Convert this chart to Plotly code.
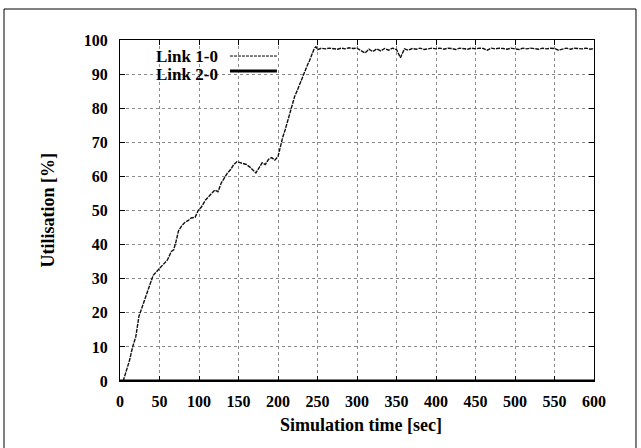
import plotly.graph_objects as go

# Link 1-0 utilisation over time
time_rise = [4, 8, 12, 16, 20, 24, 27, 30, 34, 38, 42, 46, 50, 55, 60, 65, 68, 71, 74, 78,
             82, 86, 90, 95, 99, 103, 108, 112, 116, 120, 124, 128, 132, 136, 140, 144, 148,
             152, 156, 160, 164, 168, 172, 176, 180, 184, 188, 192, 196, 200, 203, 206, 209,
             212, 215, 218, 221, 224, 228, 231, 234, 237, 240, 243, 246, 248]
util_rise = [0, 3, 6, 10, 13, 19, 21, 23, 26, 28.7, 31, 32, 33, 34.5, 35.5, 38, 38.5, 41, 44, 45.5,
             46.5, 47, 47.8, 48, 50, 51, 53, 54, 55, 56, 55.5, 58, 59.5, 61, 62, 63.5, 64.3,
             64, 63.8, 63.5, 62.8, 61.8, 61, 62.5, 64, 63.5, 65, 65.5, 64.8, 65.8, 69, 71.5, 73.6,
             76, 78, 81, 83.4, 85, 87.3, 89, 91.2, 92.5, 94, 96, 97.6, 98]
time_flat = [250, 255, 260, 265, 270, 275, 280, 285, 290, 295, 300, 305, 310, 315, 320, 325,
             330, 335, 340, 345, 350, 355, 360, 365, 370, 375, 380, 385, 390, 395, 400, 405,
             410, 415, 420, 425, 430, 435, 440, 445, 450, 455, 460, 465, 470, 475, 480, 485,
             490, 495, 500, 505, 510, 515, 520, 525, 530, 535, 540, 545, 550, 555, 560, 565,
             570, 575, 580, 585, 590, 595, 600]
util_flat = [97.2, 97.6, 97.4, 97.6, 97.5, 97.3, 97.6, 97.4, 97.7, 97.5, 97.6, 96.8, 96.2, 97.3,
             96.6, 97.4, 96.8, 97.5, 97.0, 97.6, 97.2, 94.8, 97.4, 97.0, 97.5, 97.3, 97.6, 97.2,
             97.5, 97.6, 97.4, 97.6, 97.3, 97.6, 97.5, 97.2, 97.6, 97.5, 97.3, 97.6, 97.4, 97.6,
             97.5, 97.0, 97.6, 97.4, 97.6, 97.5, 97.3, 97.6, 97.5, 97.2, 97.6, 97.4, 97.6, 97.5,
             97.3, 97.6, 97.4, 97.6, 97.5, 97.0, 97.4, 97.6, 97.3, 97.6, 97.5, 97.4, 97.6, 97.3,
             97.5]
link10_time = time_rise + time_flat
link10_util = util_rise + util_flat

# Link 2-0 stays at zero
link20_time = [0, 600]
link20_util = [0, 0]

x_ticks = [0, 50, 100, 150, 200, 250, 300, 350, 400, 450, 500, 550, 600]
y_ticks = [0, 10, 20, 30, 40, 50, 60, 70, 80, 90, 100]
series_names = ["Link 1-0", "Link 2-0"]

FONT = "Liberation Serif"

fig = go.Figure()
fig.add_trace(go.Scatter(x=link20_time, y=link20_util, mode="lines", name=series_names[1],
                         line=dict(color="black", width=3), showlegend=False))
fig.add_trace(go.Scatter(x=link10_time, y=link10_util, mode="lines", name=series_names[0],
                         line=dict(color="#111", width=1.4, dash="4px,1px"), showlegend=False))

axis_common = dict(
    showline=True, linecolor="black", linewidth=1, mirror="ticks",
    ticks="inside", ticklen=5, tickcolor="black", tickwidth=1,
    showgrid=True, gridcolor="#8a8a8a", gridwidth=1, griddash="dot",
    zeroline=False,
    tickfont=dict(family=FONT, size=16, color="black", weight="bold"),
)
fig.update_xaxes(range=[0, 600], tickvals=x_ticks, ticktext=[str(v) for v in x_ticks],
                 ticklabelstandoff=6, **axis_common)
fig.update_yaxes(range=[0, 100], tickvals=y_ticks, ticktext=[str(v) for v in y_ticks],
                 ticklabelstandoff=8, **axis_common)

# legend, gnuplot style (label then sample)
legend_font = dict(family=FONT, size=17, color="black", weight="bold")
fig.add_annotation(text=series_names[0], xref="paper", yref="paper", x=0.211, y=0.953,
                   xanchor="right", yanchor="middle", showarrow=False, font=legend_font)
fig.add_annotation(text=series_names[1], xref="paper", yref="paper", x=0.211, y=0.900,
                   xanchor="right", yanchor="middle", showarrow=False, font=legend_font)
fig.add_shape(type="rect", xref="paper", yref="paper", x0=0.03, x1=0.345, y0=0.875, y1=0.985,
              fillcolor="white", line=dict(width=0), layer="between")
fig.add_shape(type="line", xref="paper", yref="paper", x0=0.232, x1=0.331, y0=0.953, y1=0.953,
              line=dict(color="black", width=1, dash="3px,1px"))
fig.add_shape(type="line", xref="paper", yref="paper", x0=0.232, x1=0.331, y0=0.909, y1=0.909,
              line=dict(color="black", width=3))

# axis titles
title_font = dict(family=FONT, size=18, color="black", weight="bold")
fig.add_annotation(text="Simulation time [sec]", xref="paper", yref="paper", x=0.508, y=-0.129,
                   xanchor="center", yanchor="middle", showarrow=False, font=title_font)
fig.add_annotation(text="Utilisation [%]", xref="paper", yref="paper", x=-0.154, y=0.5,
                   xanchor="center", yanchor="middle", textangle=-90, showarrow=False,
                   font=title_font)

# outer frame of the figure (bottom edge falls outside the picture)
fig.add_shape(type="rect", xref="paper", yref="paper", x0=-0.2447, x1=1.0886, y0=-0.21, y1=1.0909,
              line=dict(color="black", width=1), fillcolor="rgba(0,0,0,0)", layer="above")

fig.update_layout(
    width=641, height=448,
    margin=dict(l=120, r=47, t=40, b=67),
    paper_bgcolor="white", plot_bgcolor="white",
    showlegend=False,
)

fig.write_html(
    "out.html",
    config={"displayModeBar": False},
    post_script="document.body.style.margin='0px';document.body.style.overflow='hidden';"
                "document.documentElement.style.overflow='hidden';",
)
